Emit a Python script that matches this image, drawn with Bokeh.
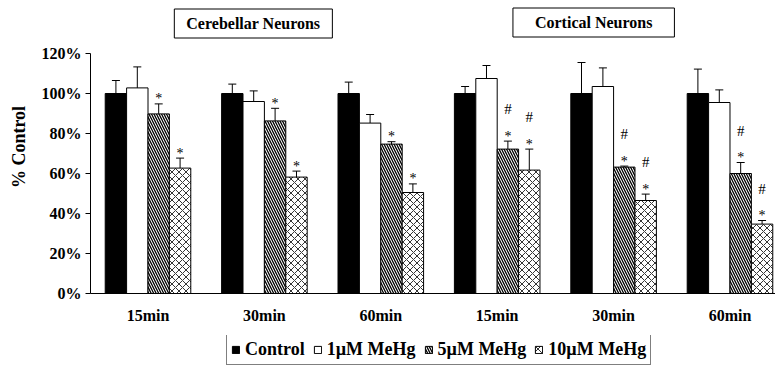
from bokeh.plotting import figure
from bokeh.layouts import column
from bokeh.models import (ColumnDataSource, FixedTicker, PrintfTickFormatter, Whisker, TeeHead,
                          Label, Legend, LegendItem, Range1d)
from bokeh.core.properties import value
from bokeh.embed import file_html
from bokeh.resources import INLINE

# ---- data ----
groups = ["15min", "30min", "60min", "15min", "30min", "60min"]
panel_titles = ["Cerebellar Neurons", "Cortical Neurons"]
series_names = ["Control", "1\u00b5M MeHg", "5\u00b5M MeHg", "10\u00b5M MeHg"]
control = [100, 100, 100, 100, 100, 100]
control_err = [6.5, 4.7, 5.7, 3.5, 15.5, 12.2]
mehg1 = [102.8, 96.0, 85.2, 107.5, 103.5, 95.5]
mehg1_err = [10.5, 5.3, 4.3, 6.5, 9.3, 6.3]
mehg5 = [89.8, 86.3, 74.7, 72.2, 63.2, 60.0]
mehg5_err = [5.0, 6.3, 1.2, 4.0, 0.5, 5.5]
mehg10 = [62.7, 58.2, 50.5, 61.7, 46.5, 34.7]
mehg10_err = [5.0, 3.0, 4.3, 10.5, 3.2, 1.8]
star5 = [1, 1, 1, 1, 1, 1]
star10 = [1, 1, 1, 1, 1, 1]
hash5 = [0, 0, 0, 1, 1, 1]
hash10 = [0, 0, 0, 1, 1, 1]
y_ticks = [0, 20, 40, 60, 80, 100, 120]

FONT = "Liberation Serif"
x_idx = list(range(len(groups)))
W = 0.1838
offsets = [-1.5 * W, -0.5 * W, 0.5 * W, 1.5 * W]

p = figure(width=775, height=335, output_backend="svg", toolbar_location=None,
           x_range=Range1d(-0.494, 5.391), y_range=Range1d(0, 146.5),
           min_border_left=90, min_border_top=0, min_border_bottom=42, min_border_right=0)
p.outline_line_color = None
p.xgrid.grid_line_color = None
p.ygrid.grid_line_color = None
p.background_fill_color = "white"

series = [
    dict(fill_color="black"),
    dict(fill_color="white"),
    dict(fill_color="white", hatch_pattern="\\", hatch_color="black", hatch_scale=5, hatch_weight=1.3),
    dict(fill_color="white", hatch_pattern="x", hatch_color="black", hatch_scale=7, hatch_weight=0.8),
]
values = [(control, control_err), (mehg1, mehg1_err), (mehg5, mehg5_err), (mehg10, mehg10_err)]

for k, ((vals, errs), style) in enumerate(zip(values, series)):
    xs = [i + offsets[k] for i in x_idx]
    src = ColumnDataSource(dict(x=xs, top=vals, upper=[v + e for v, e in zip(vals, errs)]))
    p.vbar(x="x", top="top", width=W, source=src, line_color="black", line_width=1, **style)
    wk = Whisker(base="x", lower="top", upper="upper", source=src, dimension="height",
                 line_color="black", line_width=1,
                 upper_head=TeeHead(size=8, line_color="black", line_width=1), lower_head=None)
    p.add_layout(wk)

# significance marks
for k, vals, errs, stars, hashes in [(2, mehg5, mehg5_err, star5, hash5),
                                     (3, mehg10, mehg10_err, star10, hash10)]:
    sx = [i + offsets[k] for i in x_idx if stars[i]]
    sy = [vals[i] + errs[i] for i in x_idx if stars[i]]
    p.text(x=sx, y=sy, text=["*"] * len(sx), text_align="center", text_baseline="middle",
           y_offset=-5, text_font=value(FONT), text_font_size="14px", text_color="black")
    hx = [i + offsets[k] for i in x_idx if hashes[i]]
    hy = [vals[i] + errs[i] for i in x_idx if hashes[i]]
    p.text(x=hx, y=hy, text=["#"] * len(hx), text_align="center", text_baseline="middle",
           y_offset=-32, text_font=value(FONT), text_font_size="15px", text_color="black")

# axes
p.xaxis.ticker = FixedTicker(ticks=x_idx)
p.xaxis.major_label_overrides = {i: g for i, g in enumerate(groups)}
p.xaxis.major_tick_line_color = None
p.xaxis.major_tick_out = 0
p.xaxis.minor_tick_line_color = None
p.xaxis.major_label_standoff = 13
p.xaxis.axis_line_color = "black"
p.xaxis.major_label_text_font = FONT
p.xaxis.major_label_text_font_style = "bold"
p.xaxis.major_label_text_font_size = "16px"
p.xaxis.major_label_text_color = "black"

p.yaxis.ticker = FixedTicker(ticks=y_ticks)
p.yaxis.bounds = (0, 120)
p.yaxis.formatter = PrintfTickFormatter(format="%d%%")
p.yaxis.minor_tick_line_color = None
p.yaxis.major_tick_out = 5
p.yaxis.major_tick_in = 0
p.yaxis.major_label_standoff = 4
p.yaxis.axis_line_color = "black"
p.yaxis.major_label_text_font = FONT
p.yaxis.major_label_text_font_style = "bold"
p.yaxis.major_label_text_font_size = "16px"
p.yaxis.major_label_text_color = "black"
p.yaxis.axis_label = "% Control"
p.yaxis.axis_label_text_font = FONT
p.yaxis.axis_label_text_font_style = "bold"
p.yaxis.axis_label_text_font_size = "18px"
p.yaxis.axis_label_text_color = "black"
p.yaxis.axis_label_standoff = 10

# panel titles (inside the frame, which extends to the top of the canvas)
for t, xpos, ypos, padx in zip(panel_titles, [0.905, 3.829], [135.0, 135.5], [12, 22]):
    lab = Label(x=xpos, y=ypos, text=t, text_align="center", text_baseline="middle",
                text_font=FONT, text_font_style="bold", text_font_size="16px", text_color="black",
                border_line_color="black", border_line_width=1, background_fill_color="white",
                padding=dict(left=padx, right=padx, top=6, bottom=6))
    p.add_layout(lab)

# legend strip (separate small figure; swatch renderers sit outside its visible range)
p2 = figure(width=775, height=35, output_backend="svg", toolbar_location=None,
            x_axis_location=None, y_axis_location=None,
            x_range=Range1d(0, 1), y_range=Range1d(0, 1),
            min_border_left=0, min_border_right=0, min_border_top=0, min_border_bottom=0)
p2.outline_line_color = None
p2.grid.visible = False
swatches = []
for style in series:
    swatches.append(p2.vbar(x=[-5], top=[0], width=0.1, line_color="black", line_width=1, **style))
legend = Legend(items=[LegendItem(label=n, renderers=[r]) for n, r in zip(series_names, swatches)],
                orientation="horizontal", location=(136, 5),
                label_text_font=FONT, label_text_font_style="bold", label_text_font_size="18px",
                label_text_color="black", glyph_width=9, glyph_height=9, label_standoff=5,
                spacing=8, padding=4, margin=0, border_line_color="black", border_line_width=1,
                background_fill_color="white")
p2.add_layout(legend, "center")

open("out.html", "w").write(file_html(column(p, p2, spacing=0), INLINE))
